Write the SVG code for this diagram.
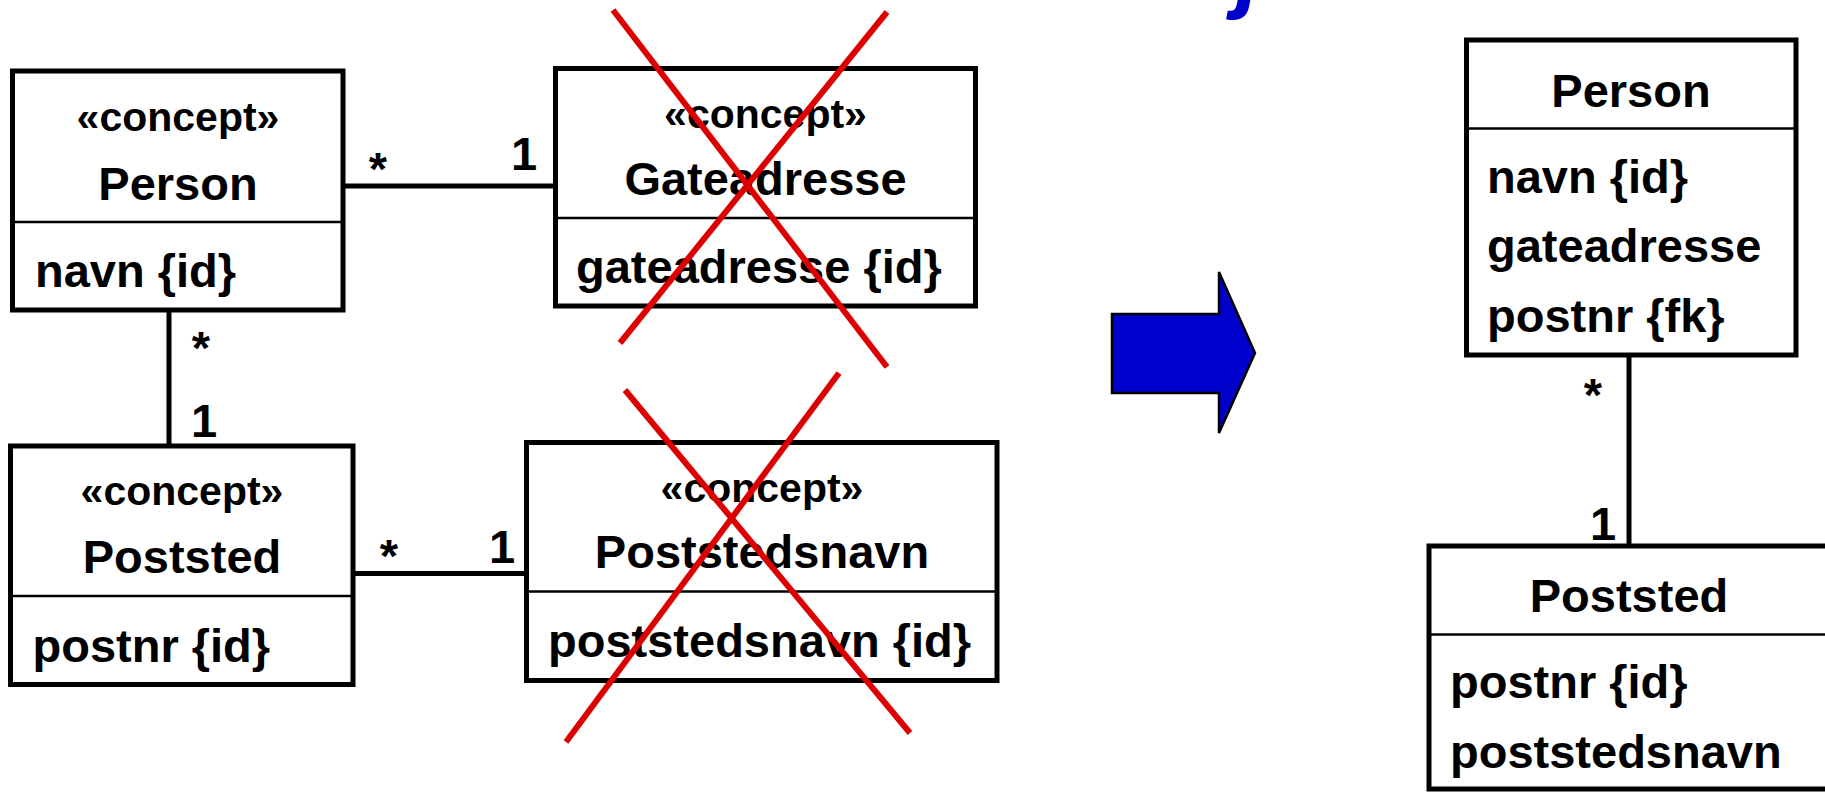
<svg xmlns="http://www.w3.org/2000/svg" width="1825" height="792" viewBox="0 0 1825 792">
  <style>
    .box { fill: #ffffff; stroke: #000000; stroke-width: 5; }
    .div { stroke: #000000; stroke-width: 2.5; }
    .conn { stroke: #000000; stroke-width: 5; fill: none; }
    .t { font-family: "Liberation Sans", Arial, Helvetica, sans-serif; font-weight: bold; fill: #000000; }
    .name { font-size: 47px; text-anchor: middle; }
    .stereo { font-size: 41px; text-anchor: middle; }
    .attr { font-size: 47px; }
    .mult { font-size: 47px; text-anchor: middle; }
    .cross { stroke: #dd0000; stroke-width: 6; fill: none; }
    .title { font-family: "Liberation Sans", Arial, sans-serif; font-weight: bold; font-style: italic; font-size: 92px; fill: #0000cc; }
  </style>

  <!-- heading line, clipped at the top edge -->
  <text class="title" x="1236" y="1">j</text>

  <!-- associations -->
  <g id="connectors">
    <line class="conn" x1="343" y1="186" x2="555.5" y2="186"/>
    <line class="conn" x1="169" y1="310" x2="169" y2="446"/>
    <line class="conn" x1="353" y1="573.5" x2="526.5" y2="573.5"/>
    <line class="conn" x1="1629" y1="355" x2="1629" y2="546"/>
    <text class="t mult" x="378" y="185">*</text>
    <text class="t mult" x="524" y="170">1</text>
    <text class="t mult" x="201" y="364">*</text>
    <text class="t mult" x="204" y="437">1</text>
    <text class="t mult" x="389" y="572">*</text>
    <text class="t mult" x="502" y="563">1</text>
    <text class="t mult" x="1593" y="411">*</text>
    <text class="t mult" x="1603" y="540">1</text>
  </g>

  <!-- concept model -->
  <g id="person-concept">
    <rect class="box" x="12.5" y="71" width="330.5" height="239"/>
    <line class="div" x1="12.5" y1="222" x2="343" y2="222"/>
    <text class="t stereo" x="178" y="131">«concept»</text>
    <text class="t name" x="178" y="200">Person</text>
    <text class="t attr" x="35" y="287">navn {id}</text>
  </g>

  <g id="gateadresse-concept">
    <rect class="box" x="555.5" y="68.5" width="420" height="237.5"/>
    <line class="div" x1="555.5" y1="218" x2="975.5" y2="218"/>
    <text class="t stereo" x="765.5" y="128">«concept»</text>
    <text class="t name" x="765.5" y="195">Gateadresse</text>
    <text class="t attr" x="576" y="283">gateadresse {id}</text>
  </g>

  <g id="poststed-concept">
    <rect class="box" x="10.5" y="446" width="342.5" height="238.5"/>
    <line class="div" x1="10.5" y1="596" x2="353" y2="596"/>
    <text class="t stereo" x="182" y="505">«concept»</text>
    <text class="t name" x="182" y="573">Poststed</text>
    <text class="t attr" x="32.5" y="662">postnr {id}</text>
  </g>

  <g id="poststedsnavn-concept">
    <rect class="box" x="526.5" y="442.5" width="470.5" height="238"/>
    <line class="div" x1="526.5" y1="591.5" x2="997" y2="591.5"/>
    <text class="t stereo" x="762" y="501.5">«concept»</text>
    <text class="t name" x="762" y="568">Poststedsnavn</text>
    <text class="t attr" x="548" y="657">poststedsnavn {id}</text>
  </g>

  <!-- struck-out classes -->
  <g id="cross-gateadresse">
    <line class="cross" x1="613" y1="10" x2="887" y2="367"/>
    <line class="cross" x1="887" y1="12" x2="620" y2="343"/>
  </g>
  <g id="cross-poststedsnavn">
    <line class="cross" x1="625" y1="390" x2="910" y2="733"/>
    <line class="cross" x1="839" y1="373" x2="566" y2="742"/>
  </g>

  <!-- transformation arrow -->
  <g id="arrow">
    <polygon points="1112,314 1219,314 1219,272 1255,353 1219,433 1219,393 1112,393" fill="#0000cc" stroke="#000000" stroke-width="2.5" stroke-linejoin="miter"/>
  </g>

  <!-- resulting tables -->
  <g id="person-table">
    <rect class="box" x="1466.5" y="40" width="329.5" height="315"/>
    <line class="div" x1="1466.5" y1="128.5" x2="1796" y2="128.5"/>
    <text class="t name" x="1631" y="107">Person</text>
    <text class="t attr" x="1487" y="193">navn {id}</text>
    <text class="t attr" x="1487" y="262">gateadresse</text>
    <text class="t attr" x="1487" y="332">postnr {fk}</text>
  </g>

  <g id="poststed-table">
    <rect class="box" x="1429" y="546" width="400" height="243"/>
    <line class="div" x1="1429" y1="634.5" x2="1829" y2="634.5"/>
    <text class="t name" x="1629" y="612">Poststed</text>
    <text class="t attr" x="1450" y="698">postnr {id}</text>
    <text class="t attr" x="1450" y="768">poststedsnavn</text>
  </g>
</svg>
